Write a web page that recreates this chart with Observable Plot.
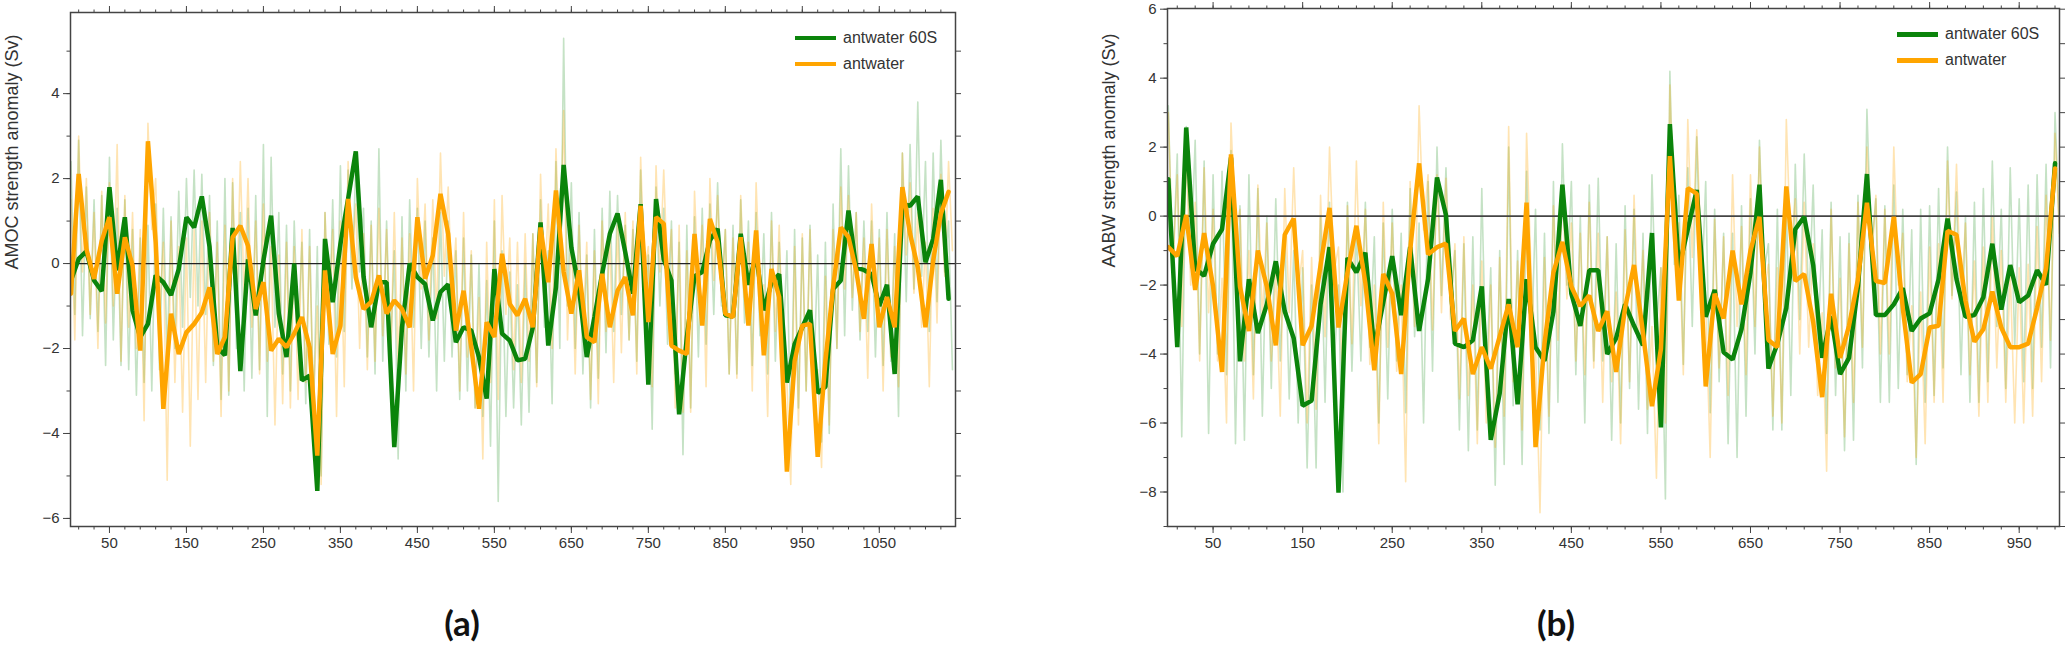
<!DOCTYPE html>
<html><head><meta charset="utf-8">
<script src="https://cdn.jsdelivr.net/npm/d3@7"></script>
<script src="https://cdn.jsdelivr.net/npm/@observablehq/plot@0.6"></script>
<style>
html,body{margin:0;padding:0;background:#fff;}
#wrap{position:relative;width:2067px;height:645px;overflow:hidden;font-family:"Liberation Sans",Arial,sans-serif;}
.panel{position:absolute;top:0;}
.leg{position:absolute;font-size:16px;color:#333;line-height:20px;white-space:nowrap;}
.sw{position:absolute;height:4.5px;width:41px;}
.tag{position:absolute;font-family:Lato,"Open Sans",sans-serif;font-weight:700;font-size:35px;line-height:36px;color:#111;transform:translate(-50%,-50%);white-space:nowrap;}
</style></head><body><div id="wrap"></div>
<script>
// ---------- data ----------
const seriesNames = ["antwater 60S", "antwater"];
const yLabelA = "AMOC strength anomaly (Sv)";
const yLabelB = "AABW strength anomaly (Sv)";
const panelTags = ["(a)", "(b)"];

const decadesA = d3.range(0, 1150, 10);
const decadesB = d3.range(0, 1000, 10);

const xLabelsA = [50, 150, 250, 350, 450, 550, 650, 750, 850, 950, 1050];
const xLabelsB = [50, 150, 250, 350, 450, 550, 650, 750, 850, 950];
const xMinorA = d3.range(10, 1150, 20);
const xMinorB = d3.range(10, 1000, 20);
const yLabelsA = [-6, -4, -2, 0, 2, 4];
const yLabelsB = [-8, -6, -4, -2, 0, 2, 4, 6];
const yMinorA = d3.range(-6, 6, 1);
const yMinorB = d3.range(-9, 7, 1);

// Panel (a): decadal AMOC anomaly
const greenA = [-0.4, 0.11, 0.29, -0.4, -0.65, 1.8, -0.16, 1.09, -1.1, -1.73,
 -1.42, -0.28, -0.44, -0.74, -0.13, 1.09, 0.85, 1.58, 0.4, -1.97,
 -2.16, 0.84, -2.53, 0.1, -1.22, 0.07, 1.13, -1.18, -2.2, 0.0,
 -2.75, -2.64, -5.35, 0.58, -0.91, 0.46, 1.52, 2.64, -0.3, -1.5,
 -0.44, -0.44, -4.32, -1.5, 0.0, -0.32, -0.48, -1.34, -0.67, -0.49,
 -1.85, -1.5, -1.58, -2.2, -3.18, -0.13, -1.65, -1.81, -2.28, -2.24,
 -1.5, 0.97, -1.93, -0.56, 2.32, 0.38, -0.6, -2.2, -1.26, -0.24,
 0.7, 1.18, 0.27, -0.71, 1.4, -2.85, 1.52, 0.1, -0.4, -3.55,
 -1.75, -0.3, -0.2, 0.55, 0.82, -1.22, -1.25, 0.7, -0.5, 0.2,
 -1.1, -0.45, -0.25, -2.8, -1.9, -1.5, -1.1, -3.05, -2.9, -0.6,
 -0.4, 1.25, -0.1, -0.15, -0.25, -1.0, -0.5, -2.6, 1.4, 1.36,
 1.58, 0.03, 0.58, 1.97, -0.83];
const orangeA = [-0.71, 2.11, 0.35, -0.36, 0.54, 1.09, -0.71, 0.62, -0.05, -2.05,
 2.88, 0.5, -3.42, -1.18, -2.13, -1.62, -1.42, -1.15, -0.56, -2.13,
 -1.73, 0.62, 0.89, 0.42, -1.07, -0.44, -2.05, -1.77, -1.97, -1.65,
 -1.26, -1.97, -4.52, -0.16, -2.13, -1.46, 1.52, -0.32, -1.07, -0.9,
 -0.28, -1.18, -0.87, -1.07, -1.5, 1.09, -0.36, 0.19, 1.64, 0.7,
 -1.58, -0.64, -1.97, -3.42, -1.38, -1.73, 0.23, -0.95, -1.22, -0.83,
 -1.5, 0.85, -0.44, 1.72, -0.2, -1.18, -0.16, -1.73, -1.85, -0.24,
 -1.5, -0.64, -0.32, -1.22, 1.36, -1.38, 1.09, 0.94, -1.93, -2.05,
 -2.13, 0.7, -1.46, 1.05, 0.5, -1.18, -1.26, 0.62, -1.46, 0.78,
 -2.16, -0.13, -0.79, -4.9, -2.3, -1.46, -1.42, -4.55, -2.3, -0.56,
 0.85, 0.62, -0.16, -1.3, 0.46, -1.5, -0.79, -1.5, 1.8, 0.7,
 -0.09, -1.5, 0.07, 1.17, 1.69];
// Panel (a): annual spread (high / low per decade)
const greenAhi = [2.4, 2.9, 1.8, 1.5, 1.6, 2.5, 1.3, 1.5, 0.8, 0.6,
 0.9, 1.4, 1.3, 1.1, 1.7, 2.0, 2.2, 2.1, 1.6, 1.0,
 2.0, 1.9, 1.2, 1.3, 1.6, 2.8, 2.5, 1.2, 0.9, 1.0,
 0.5, 0.8, 0.4, 1.2, 1.5, 2.3, 2.2, 2.4, 1.3, 1.0,
 2.7, 1.0, 0.3, 1.1, 1.5, 1.3, 1.0, 0.6, 1.2, 1.0,
 0.3, 0.6, 0.2, 0.0, -0.4, 1.0, 0.3, -0.2, -0.5, 0.0,
 0.7, 1.5, 0.3, 2.4, 5.3, 1.9, 1.2, 0.2, 0.8, 1.3,
 1.7, 1.6, 0.9, 0.8, 2.2, 0.2, 1.8, 1.3, 1.0, 0.5,
 0.9, 1.1, 1.3, 1.4, 1.9, 0.8, 0.9, 1.5, 1.0, 1.2,
 0.7, 1.2, 0.5, 0.3, 0.8, 0.6, 0.9, 0.2, 0.5, 1.4,
 2.7, 2.3, 1.2, 1.0, 1.0, 0.8, 1.2, 0.7, 2.6, 2.8,
 3.8, 2.4, 2.6, 2.9, 1.0];
const greenAlo = [-1.2, -1.7, -1.3, -1.6, -2.4, -1.8, -2.4, -2.5, -3.1, -2.8,
 -3.0, -2.5, -2.2, -2.0, -1.5, -0.8, -1.0, -1.2, -2.4, -3.2,
 -3.1, -2.0, -3.0, -2.7, -2.5, -3.6, -1.5, -2.6, -3.0, -1.7,
 -3.3, -3.5, -5.0, -1.9, -2.2, -1.6, -0.6, -0.2, -2.2, -2.6,
 -2.3, -2.2, -4.6, -3.0, -1.5, -2.0, -2.2, -3.0, -2.3, -2.2,
 -3.2, -3.0, -3.4, -3.6, -4.3, -5.6, -3.6, -3.4, -3.8, -3.5,
 -2.8, -1.5, -3.3, -2.0, -1.0, -2.0, -2.6, -3.4, -2.7, -2.1,
 -1.6, -1.2, -1.8, -2.3, -1.0, -3.9, -1.0, -1.9, -2.6, -4.5,
 -3.4, -2.2, -1.9, -1.2, -1.0, -2.6, -2.6, -1.4, -2.4, -1.7,
 -2.6, -2.3, -2.0, -4.0, -3.4, -3.0, -2.6, -4.2, -4.0, -2.0,
 -1.7, -1.1, -1.8, -1.6, -2.2, -2.4, -2.3, -3.6, -0.9, -0.6,
 -0.3, -1.6, -0.9, -0.2, -2.5];
const orangeAhi = [1.5, 3.0, 2.0, 1.2, 1.7, 1.9, 2.8, 1.6, 1.2, 0.8,
 3.3, 2.0, 0.5, 1.0, 0.4, 0.6, 0.8, 1.0, 1.2, 0.5,
 0.9, 2.0, 2.4, 2.0, 1.0, 1.4, 0.4, 0.2, 0.5, 0.4,
 0.8, 0.4, -1.0, 1.2, 0.8, 1.0, 2.4, 1.4, 0.7, 0.9,
 1.3, 0.8, 1.2, 0.6, 0.7, 2.0, 1.4, 1.5, 2.6, 1.8,
 0.6, 1.2, 0.3, -0.8, 0.5, 1.5, 1.6, 0.6, 0.5, 0.7,
 0.7, 2.1, 1.4, 2.7, 3.6, 0.8, 0.9, 0.5, 0.3, 1.0,
 0.6, 0.9, 1.2, 1.0, 2.5, 0.4, 2.3, 2.2, 0.8, 0.9,
 0.3, 1.7, 0.9, 2.0, 1.6, 0.8, 0.6, 1.6, 0.5, 1.9,
 -0.5, 1.0, 0.9, -2.8, 0.4, 0.7, 0.8, -2.5, -0.3, 0.8,
 1.8, 1.6, 1.2, 0.6, 1.4, 0.6, 0.8, 0.4, 2.6, 1.9,
 1.2, 0.5, 1.3, 2.1, 2.4];
const orangeAlo = [-1.8, -0.2, -1.2, -2.0, -1.4, -1.0, -2.3, -1.5, -2.0, -3.7,
 0.8, -1.2, -5.1, -2.8, -3.5, -4.3, -3.2, -2.8, -2.3, -3.6,
 -3.0, -1.2, -0.8, -1.5, -2.6, -2.3, -3.8, -3.3, -3.4, -3.2,
 -2.8, -3.3, -5.2, -1.5, -3.6, -2.9, 0.0, -2.0, -2.5, -2.3,
 -1.7, -2.6, -2.4, -2.6, -3.0, -0.6, -1.8, -1.3, -0.3, -0.8,
 -3.0, -2.2, -3.4, -4.6, -2.8, -3.2, -1.2, -2.5, -2.8, -2.3,
 -2.9, -0.7, -2.0, 0.0, -1.8, -2.6, -1.6, -3.2, -3.3, -1.6,
 -2.8, -2.1, -1.8, -2.6, -0.2, -2.9, -0.2, -0.4, -3.4, -3.5,
 -3.5, -0.6, -2.9, -0.4, -0.8, -2.6, -2.7, -0.8, -3.0, -0.6,
 -3.6, -1.6, -2.3, -5.2, -3.8, -3.0, -3.0, -4.8, -3.8, -2.0,
 -0.6, -0.8, -1.6, -2.7, -0.9, -3.0, -2.2, -2.9, 0.2, -0.7,
 -1.5, -2.9, -1.4, -0.3, 0.3];

// Panel (b): decadal AABW anomaly
const greenB = [1.07, -3.8, 2.57, -1.52, -1.73, -0.8, -0.38, 1.7, -4.21, -1.83,
 -3.39, -2.56, -1.31, -2.76, -3.54, -5.5, -5.35, -2.56, -0.9, -8.02,
 -1.21, -1.63, -1.06, -3.85, -2.5, -1.16, -2.87, -0.9, -3.33, -1.83,
 1.12, 0.03, -3.7, -3.8, -3.6, -2.04, -6.49, -5.14, -2.4, -5.46,
 -1.83, -3.8, -4.2, -2.76, 0.91, -2.25, -3.18, -1.57, -1.57, -4.0,
 -3.54, -2.56, -3.18, -3.75, -0.49, -6.13, 2.67, -1.52, -0.38, 0.76,
 -2.92, -2.14, -3.95, -4.16, -3.28, -1.63, 0.91, -4.42, -3.7, -2.66,
 -0.38, -0.02, -1.42, -4.11, -2.9, -4.58, -4.11, -2.04, 1.22, -2.87,
 -2.87, -2.56, -2.09, -3.33, -2.97, -2.82, -1.83, -0.07, -1.83, -2.92,
 -2.87, -2.35, -0.8, -2.71, -1.42, -2.5, -2.3, -1.57, -1.99, 1.53];
const orangeB = [-0.9, -1.16, 0.03, -2.14, -0.49, -2.04, -4.52, 1.79, -2.04, -3.33,
 -1.0, -2.04, -3.75, -0.54, -0.07, -3.75, -3.18, -1.42, 0.24, -3.23,
 -1.63, -0.28, -1.94, -4.47, -1.68, -2.25, -4.58, -1.0, 1.53, -1.11,
 -0.9, -0.8, -3.33, -2.97, -4.58, -3.8, -4.42, -3.49, -2.56, -3.8,
 0.39, -6.7, -3.7, -1.63, -0.75, -2.04, -2.61, -2.3, -3.33, -2.76,
 -4.52, -2.66, -1.42, -3.39, -5.51, -3.85, 1.74, -2.45, 0.81, 0.65,
 -4.94, -2.25, -2.97, -1.0, -2.56, -1.0, -0.02, -3.59, -3.8, 0.86,
 -1.88, -1.68, -3.07, -5.25, -2.25, -4.11, -3.18, -1.83, 0.39, -1.88,
 -1.94, -0.02, -2.66, -4.83, -4.58, -3.23, -3.18, -0.43, -0.54, -2.45,
 -3.64, -3.28, -2.19, -3.23, -3.8, -3.8, -3.7, -2.66, -1.52, 1.38];
// Panel (b): annual spread (high / low per decade)
const greenBhi = [3.2, 1.8, 2.6, 2.2, 1.6, 1.2, 1.3, 1.9, 0.3, 1.2,
 0.8, 0.0, 0.5, -0.5, -1.0, -1.5, -2.0, 0.0, 0.4, -2.0,
 0.4, -0.4, 0.4, -0.6, -0.2, 0.2, -0.5, 0.8, -0.2, 1.0,
 2.0, 1.4, -1.0, -0.8, -0.6, 0.8, -1.5, -1.0, 2.0, -1.0,
 1.3, 0.2, -0.5, 1.0, 2.1, 1.0, 0.0, 0.9, 1.1, -0.6,
 -0.8, 0.3, 0.2, -0.5, 1.2, -1.5, 4.2, 0.6, 1.4, 2.3,
 1.0, 0.2, -0.5, -0.5, 0.3, 0.5, 2.2, -0.8, 0.2, 0.4,
 1.5, 1.8, 0.9, -0.4, 0.4, -0.6, -0.5, 0.6, 3.1, 0.5,
 0.3, 0.9, 0.2, -0.4, 0.2, 0.3, 0.8, 2.0, 0.7, 0.0,
 0.4, 0.8, 1.6, 0.2, 1.4, 0.5, 0.9, 1.2, 1.5, 3.0];
const greenBlo = [-1.6, -6.4, -1.5, -4.0, -6.3, -4.0, -4.6, -6.6, -6.5, -4.6,
 -5.8, -5.0, -4.2, -5.3, -6.0, -7.3, -7.3, -5.4, -4.4, -8.0,
 -4.5, -4.2, -3.8, -6.0, -5.3, -4.2, -5.7, -3.5, -6.0, -4.5,
 -2.3, -2.6, -6.2, -6.8, -6.2, -4.8, -7.8, -7.2, -5.5, -7.2,
 -4.2, -6.2, -6.3, -5.4, -2.0, -4.6, -6.0, -4.2, -4.2, -6.5,
 -6.0, -5.0, -5.6, -6.3, -3.2, -8.2, -1.4, -4.3, -3.2, -2.5,
 -5.7, -4.8, -6.6, -7.0, -5.8, -4.0, -1.6, -6.2, -6.2, -5.2,
 -3.0, -2.6, -4.0, -6.3, -5.2, -6.8, -6.5, -4.4, -1.0, -5.4,
 -5.4, -5.0, -4.6, -7.2, -5.4, -5.2, -4.4, -2.3, -4.6, -5.4,
 -5.4, -4.8, -3.2, -5.0, -3.8, -4.8, -5.0, -3.8, -4.4, -0.5];
const orangeBhi = [3.0, 1.2, 1.9, 0.4, 1.4, 0.2, -1.8, 2.7, 0.2, -1.0,
 0.9, -0.2, -1.6, 0.8, 1.4, -1.0, -1.2, 0.6, 2.0, -0.9,
 0.3, 1.6, 0.2, -2.0, 0.4, -0.2, -2.0, 1.0, 3.2, 1.2,
 1.2, 1.1, -0.8, -0.6, -2.0, -1.3, -2.0, -1.2, 2.6, -1.3,
 2.4, -3.8, -1.2, 0.3, 0.9, -0.2, -0.5, 0.4, -0.5, -0.6,
 -2.2, -0.4, 0.6, -1.0, -3.2, -1.5, 3.8, -0.2, 2.8, 2.5,
 -2.6, -0.1, -0.6, 1.2, -0.3, 1.2, 2.0, -1.4, -1.5, 2.8,
 0.5, 0.4, -0.8, -2.8, 0.2, -1.8, -0.8, 0.4, 2.0, 0.6,
 0.2, 2.0, -0.5, -2.6, -2.2, -0.9, -0.8, 1.6, 1.5, -0.2,
 -1.3, -0.9, 0.0, -1.0, -1.6, -1.5, -1.4, -0.3, 0.6, 2.4];
const orangeBlo = [-1.5, -3.2, -2.0, -4.2, -2.8, -4.2, -6.0, -0.4, -4.2, -5.3,
 -3.0, -4.2, -5.8, -2.8, -2.2, -6.0, -5.6, -3.5, -1.6, -5.4,
 -3.7, -2.6, -4.3, -6.6, -3.8, -4.5, -7.7, -3.2, -0.4, -3.3,
 -2.8, -3.0, -5.3, -5.2, -6.6, -6.0, -6.7, -5.8, -4.8, -6.2,
 -1.6, -8.6, -5.8, -3.6, -2.4, -4.2, -4.6, -4.4, -5.4, -4.8,
 -6.6, -4.8, -3.4, -5.6, -7.6, -6.0, -0.4, -4.6, -1.2, -1.2,
 -7.0, -4.4, -5.2, -3.2, -4.6, -3.2, -2.2, -5.8, -6.0, -1.0,
 -4.0, -3.8, -5.2, -7.4, -4.4, -6.4, -5.4, -3.8, -1.4, -4.0,
 -4.0, -2.0, -4.8, -7.0, -6.6, -5.4, -5.4, -2.4, -2.6, -4.6,
 -5.8, -5.4, -4.4, -5.4, -6.0, -6.0, -5.8, -4.8, -3.6, -0.6];

// ---------- drawing ----------
const GREEN = "#0b840b";
const ORANGE = "#ffa500";
const INK = "#333";
const fmtY = d => d < 0 ? "\u2212" + Math.abs(d) : String(d);

function makePanel(c) {
  const rows = vals => c.decades.map((d, i) => ({yr: d, v: vals[i]}));
  const zig = (hi, lo) => c.decades.flatMap((d, i) => [{yr: d, v: hi[i]}, {yr: d + 5, v: lo[i]}]);
  return Plot.plot({
    width: c.width, height: 560,
    marginLeft: c.ml, marginRight: c.mr, marginTop: c.mt, marginBottom: 34,
    x: {domain: c.xDomain, axis: null},
    y: {domain: c.yDomain, axis: null},
    style: {background: "transparent", fontFamily: '"Liberation Sans", Arial, sans-serif', fontSize: "15px", color: INK, overflow: "visible"},
    marks: [
      Plot.line(zig(c.gHi, c.gLo), {x: "yr", y: "v", stroke: GREEN, strokeOpacity: 0.24, strokeWidth: 1.6, clip: true}),
      Plot.line(zig(c.oHi, c.oLo), {x: "yr", y: "v", stroke: ORANGE, strokeOpacity: 0.3, strokeWidth: 1.6, clip: true}),
      Plot.ruleY([0], {stroke: c.zeroStroke, strokeWidth: c.zeroWidth}),
      Plot.line(rows(c.green), {x: "yr", y: "v", stroke: GREEN, strokeWidth: 4.5, strokeLinejoin: "miter", clip: true}),
      Plot.line(rows(c.orange), {x: "yr", y: "v", stroke: ORANGE, strokeWidth: 4.5, strokeLinejoin: "miter", clip: true}),
      Plot.frame({stroke: "#444", strokeWidth: 1.5}),
      Plot.axisX(c.xLabels, {anchor: "bottom", tickSize: 7, tickPadding: 4, stroke: "#444", fill: INK, fontSize: 15, tickFormat: d => String(d), label: null}),
      Plot.axisX(c.xMinor, {anchor: "bottom", tickSize: 3.5, stroke: "#444", fill: "none", label: null}),
      Plot.axisX(c.xLabels, {anchor: "top", tickSize: 7, stroke: "#444", fill: "none", label: null}),
      Plot.axisX(c.xMinor, {anchor: "top", tickSize: 3.5, stroke: "#444", fill: "none", label: null}),
      Plot.axisY(c.yLabels, {anchor: "left", tickSize: 7, tickPadding: 4, stroke: "#444", fill: INK, fontSize: 15, tickFormat: fmtY, label: null}),
      Plot.axisY(c.yMinor, {anchor: "left", tickSize: 3.5, stroke: "#444", fill: "none", label: null}),
      Plot.axisY(c.yMinor, {anchor: "right", tickSize: 5, stroke: "#444", fill: "none", label: null}),
      Plot.text([c.yLabel], {text: d => d, frameAnchor: "left", dx: -58, rotate: -90, fontSize: 18, fill: INK})
    ]
  });
}

const wrap = document.getElementById("wrap");
const panels = [
  {left: 0, width: 990, ml: 70, mr: 35, mt: 12, xDomain: [-0.6, 1149], yDomain: [-6.19, 5.91],
   zeroStroke: "#222", zeroWidth: 1.2,
   decades: decadesA, green: greenA, orange: orangeA, gHi: greenAhi, gLo: greenAlo, oHi: orangeAhi, oLo: orangeAlo,
   xLabels: xLabelsA, xMinor: xMinorA, yLabels: yLabelsA, yMinor: yMinorA, yLabel: yLabelA,
   legend: {x: 795, y: [37.5, 63.5]}, tag: {x: 462, y: 622}},
  {left: 1096, width: 971, ml: 71, mr: 8, mt: 8, xDomain: [-0.9, 995], yDomain: [-9, 6.02],
   zeroStroke: "#444", zeroWidth: 1.8,
   decades: decadesB, green: greenB, orange: orangeB, gHi: greenBhi, gLo: greenBlo, oHi: orangeBhi, oLo: orangeBlo,
   xLabels: xLabelsB, xMinor: xMinorB, yLabels: yLabelsB, yMinor: yMinorB, yLabel: yLabelB,
   legend: {x: 1897, y: [34, 60]}, tag: {x: 1556, y: 622}}
];
panels.forEach((c, k) => {
  const svg = makePanel(c);
  svg.classList.add("panel");
  svg.style.left = c.left + "px";
  wrap.appendChild(svg);
  [GREEN, ORANGE].forEach((col, i) => {
    const sw = document.createElement("div");
    sw.className = "sw";
    sw.style.left = c.legend.x + "px";
    sw.style.top = (c.legend.y[i] - 2) + "px";
    sw.style.background = col;
    wrap.appendChild(sw);
    const t = document.createElement("div");
    t.className = "leg";
    t.textContent = seriesNames[i];
    t.style.left = (c.legend.x + 48) + "px";
    t.style.top = (c.legend.y[i] - 10) + "px";
    wrap.appendChild(t);
  });
  const tag = document.createElement("div");
  tag.className = "tag";
  tag.textContent = panelTags[k];
  tag.style.left = c.tag.x + "px";
  tag.style.top = c.tag.y + "px";
  wrap.appendChild(tag);
});
</script></body></html>
